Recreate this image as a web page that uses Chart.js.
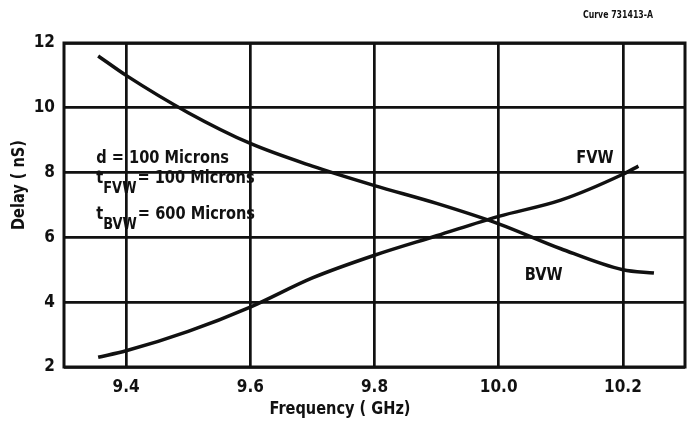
<!DOCTYPE html>
<html>
<head>
<meta charset="utf-8">
<script src="https://cdn.jsdelivr.net/npm/chart.js@4/dist/chart.umd.min.js"></script>
<style>
  html, body { margin: 0; padding: 0; background: #fff; }
  #wrap { width: 689px; height: 423px; }
</style>
</head>
<body>
<div id="wrap"><canvas id="chart" width="689" height="423"></canvas></div>
<script>
const FONT = '"Liberation Sans Narrow", "DejaVu Sans Condensed", "Arial Narrow", sans-serif';
const INK = "#111";

// Forward volume wave delay
const fvwFreq = [9.355, 9.4, 9.5, 9.6, 9.7, 9.8, 9.9, 10.0, 10.1, 10.2, 10.225];
const fvwDelay = [2.3, 2.5, 3.1, 3.85, 4.75, 5.45, 6.05, 6.65, 7.15, 7.95, 8.2];

// Backward volume wave delay
const bvwFreq = [9.355, 9.4, 9.5, 9.6, 9.7, 9.8, 9.9, 10.0, 10.1, 10.2, 10.25];
const bvwDelay = [11.6, 11.0, 9.85, 8.9, 8.2, 7.6, 7.05, 6.42, 5.65, 5.0, 4.9];

const freqTicks = [9.4, 9.6, 9.8, 10.0, 10.2];
const delayTicks = [2, 4, 6, 8, 10, 12];

const toPoints = (xs, ys) => xs.map((x, i) => ({ x: x, y: ys[i] }));

// text placed in data coordinates: [freq, delay, main, subscript, rest]
const notes = [
  [9.352, 8.3, "d = 100 Microns", "", ""],
  [9.352, 7.68, "t", "FVW", "= 100 Microns"],
  [9.352, 6.58, "t", "BVW", "= 600 Microns"],
  [10.125, 8.3, "FVW", "", ""],
  [10.042, 4.69, "BVW", "", ""],
];

const framePlugin = {
  id: "frame",
  beforeDatasetsDraw(chart) {
    const a = chart.chartArea;
    const ctx = chart.ctx;
    ctx.save();
    ctx.strokeStyle = INK;
    ctx.lineWidth = 3;
    ctx.strokeRect(a.left, a.top, a.right - a.left, a.bottom - a.top);
    ctx.restore();
  },
  afterDraw(chart) {
    const ctx = chart.ctx;
    const xs = chart.scales.x;
    const ys = chart.scales.y;
    // squeeze text to the narrow lettering-guide width
    const narrow = (t, x, y) => ctx.fillText(t, x, y, ctx.measureText(t).width * 0.9);
    ctx.save();
    ctx.fillStyle = INK;
    ctx.textBaseline = "alphabetic";
    notes.forEach(([fx, dy, main, sub, rest]) => {
      let px = xs.getPixelForValue(fx);
      const py = ys.getPixelForValue(dy);
      ctx.font = "bold 18px " + FONT;
      narrow(main, px, py);
      px += ctx.measureText(main).width * 0.9;
      if (sub) {
        ctx.font = "bold 16px " + FONT;
        narrow(sub, px, py + 10);
        px += ctx.measureText(sub).width * 0.9 + 1;
      }
      if (rest) {
        ctx.font = "bold 18px " + FONT;
        narrow(rest, px, py);
      }
    });

    // axis titles, set off-centre as on the original sheet
    ctx.textAlign = "center";
    ctx.textBaseline = "middle";
    ctx.font = "bold 18px " + FONT;
    ctx.fillText("Frequency ( GHz)", 340, 409, 141);
    ctx.save();
    ctx.translate(20, 185);
    ctx.rotate(-Math.PI / 2);
    ctx.font = "bold 17px " + FONT;
    ctx.fillText("Delay ( nS)", 0, 0, 90);
    ctx.restore();

    ctx.textAlign = "right";
    ctx.textBaseline = "alphabetic";
    ctx.font = "bold 11px " + FONT;
    ctx.fillText("Curve 731413-A", 653, 18, 70);
    ctx.restore();
  },
};

const lineStyle = {
  borderColor: INK,
  borderWidth: 3.5,
  pointRadius: 0,
  fill: false,
  cubicInterpolationMode: "monotone",
};

new Chart(document.getElementById("chart"), {
  type: "line",
  data: {
    datasets: [
      Object.assign({ label: "FVW", data: toPoints(fvwFreq, fvwDelay) }, lineStyle),
      Object.assign({ label: "BVW", data: toPoints(bvwFreq, bvwDelay) }, lineStyle),
    ],
  },
  options: {
    responsive: false,
    animation: false,
    layout: { padding: { left: 0, right: 4, top: 43, bottom: 0 } },
    plugins: {
      legend: { display: false },
      tooltip: { enabled: false },
    },
    scales: {
      x: {
        type: "linear",
        min: 9.3,
        max: 10.3,
        afterBuildTicks: (s) => { s.ticks = freqTicks.map((v) => ({ value: v })); },
        afterFit: (s) => { s.height = 56; },
        border: { display: false },
        grid: { color: INK, lineWidth: 2.7, drawTicks: false },
        ticks: {
          color: INK,
          padding: 10,
          font: { family: FONT, size: 17, weight: "bold" },
          callback: (v) => v.toFixed(1),
        },
      },
      y: {
        min: 2,
        max: 12,
        afterBuildTicks: (s) => { s.ticks = delayTicks.map((v) => ({ value: v })); },
        afterFit: (s) => { s.width = 64; },
        border: { display: false },
        grid: { color: INK, lineWidth: 2.7, drawTicks: false },
        ticks: {
          color: INK,
          padding: 9,
          font: { family: FONT, size: 17, weight: "bold" },
        },
      },
    },
  },
  plugins: [framePlugin],
});
</script>
</body>
</html>
